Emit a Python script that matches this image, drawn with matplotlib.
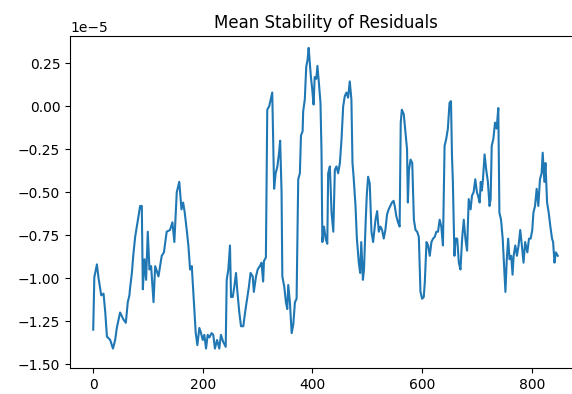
import matplotlib
matplotlib.use('Agg')
import matplotlib.pyplot as plt
import numpy as np

# step index and residual mean stability (in units of 1e-5)
steps = [0, 2, 6.7, 9.7, 14.6, 18.8, 22, 25, 31, 36, 40, 43, 49, 55, 59.5, 63, 66, 67, 70.5, 73,
         76.5, 81, 85.6, 88.6, 90.5, 93.5, 96.5, 99.5, 102.6, 105.6, 110, 113, 119, 125, 129, 134,
         140, 144.5, 148, 152.4, 157, 161, 164, 167, 170.6, 173.6, 176.7, 179.8, 181.5, 184, 187,
         190, 193.6, 196.7, 199.8, 202.7, 205.8, 208.8, 211.8, 216, 219, 222, 226, 230, 233, 237,
         241.7, 243.5, 246.5, 249.5, 251.4, 254.5, 257.4, 260.5, 263, 266.5, 269.6, 273.8, 277,
         280, 284, 287, 291, 293, 297, 300, 304, 307, 310, 311.5, 315, 317.5, 321, 323.7, 326.6,
         330, 332.8, 336, 339, 341, 343.6, 345, 348.5, 351.5, 354, 355.8, 358.8, 362, 365, 368,
         371, 374, 377, 379, 382, 383, 386, 388.6, 391, 393, 395, 397, 399.5, 402, 404, 407, 409,
         411.6, 414.6, 416.5, 418, 421, 424, 427, 428.6, 431.7, 434.8, 438, 440.8, 443.8, 446.8,
         450, 453, 456, 459, 462, 465, 468, 471, 473, 475, 478.5, 481, 484.5, 487, 489, 492, 494,
         497, 499, 501.5, 504.5, 507.6, 510.6, 515, 518, 521, 524, 527, 530, 533, 536, 539, 542,
         545, 548, 550, 553, 556, 559, 561, 563, 566.5, 569.6, 572.5, 574, 576, 579, 582, 585,
         588, 591, 594, 597, 600, 603, 605, 608, 611, 614, 617, 620, 623, 626, 629, 632, 635, 638,
         641, 644, 647, 650, 652.7, 654.5, 656, 659, 661, 664, 667, 670, 673, 676, 679, 682, 685,
         688.5, 691, 694, 697, 700, 702, 705, 707, 709, 711, 714, 717, 720, 723, 725, 727, 730,
         733, 736, 739, 741, 744, 747, 750, 752, 754.5, 757, 759.5, 762.5, 765, 767, 770, 773,
         776, 779, 782, 785, 788, 792, 795, 798, 801, 803, 806, 809, 812, 815, 818, 820, 823, 825,
         828, 831, 834, 837, 839, 841.5, 844, 847.5]
stability = [-1.30, -0.995, -0.92, -1.00, -1.10, -1.09, -1.20, -1.34, -1.36, -1.41, -1.36, -1.29,
             -1.20, -1.24, -1.26, -1.14, -1.10, -1.065, -0.97, -0.87, -0.76, -0.67, -0.58, -0.58,
             -1.065, -0.89, -1.01, -0.73, -0.95, -0.93, -1.14, -0.93, -0.99, -0.87, -0.85, -0.73,
             -0.72, -0.675, -0.79, -0.50, -0.44, -0.60, -0.56, -0.62, -0.72, -0.81, -0.95, -0.93,
             -1.02, -1.16, -1.32, -1.39, -1.29, -1.32, -1.36, -1.33, -1.41, -1.33, -1.345, -1.32,
             -1.33, -1.41, -1.36, -1.41, -1.33, -1.37, -1.40, -1.01, -0.95, -0.81, -1.11, -1.11,
             -1.05, -0.97, -1.08, -1.20, -1.28, -1.28, -1.20, -1.135, -1.05, -0.97, -0.99, -1.08,
             -0.99, -0.95, -0.93, -0.91, -1.02, -0.90, -0.88, -0.02, 0.00, 0.04, 0.08, -0.48,
             -0.39, -0.35, -0.27, -0.20, -0.50, -0.99, -1.05, -1.14, -1.18, -1.04, -1.14, -1.32,
             -1.27, -1.14, -1.12, -0.425, -0.39, -0.17, -0.145, -0.03, 0.04, 0.23, 0.27, 0.34, 0.26,
             0.175, 0.10, 0.01, 0.17, 0.16, 0.235, 0.14, 0.02, -0.27, -0.79, -0.70, -0.77, -0.80,
             -0.39, -0.35, -0.62, -0.73, -0.37, -0.35, -0.39, -0.33, -0.19, 0.00, 0.06, 0.08, 0.05,
             0.145, 0.04, -0.33, -0.41, -0.58, -0.77, -0.91, -0.97, -0.79, -1.01, -0.95, -0.675,
             -0.52, -0.41, -0.45, -0.73, -0.79, -0.66, -0.61, -0.73, -0.70, -0.72, -0.77, -0.72,
             -0.63, -0.60, -0.58, -0.56, -0.55, -0.58, -0.64, -0.675, -0.70, -0.095, -0.02, -0.045,
             -0.15, -0.25, -0.56, -0.37, -0.31, -0.33, -0.66, -0.72, -0.73, -0.76, -1.08, -1.12,
             -1.11, -1.02, -0.79, -0.81, -0.87, -0.79, -0.77, -0.76, -0.73, -0.73, -0.66, -0.70,
             -0.81, -0.23, -0.19, -0.13, 0.02, 0.03, -0.29, -0.425, -0.87, -0.77, -0.77, -0.91,
             -0.95, -0.77, -0.66, -0.77, -0.84, -0.54, -0.60, -0.52, -0.50, -0.425, -0.50, -0.52,
             -0.56, -0.44, -0.49, -0.425, -0.28, -0.37, -0.44, -0.58, -0.54, -0.23, -0.19, -0.095,
             -0.13, -0.01, -0.62, -0.66, -0.77, -0.95, -1.08, -0.89, -0.77, -0.89, -0.87, -0.98,
             -0.87, -0.81, -0.87, -0.81, -0.72, -0.81, -0.91, -0.79, -0.85, -0.77, -0.77, -0.72,
             -0.62, -0.58, -0.48, -0.58, -0.425, -0.39, -0.27, -0.44, -0.33, -0.56, -0.62, -0.70,
             -0.77, -0.79, -0.91, -0.85, -0.87]

x = np.array(steps)
y = np.array(stability) * 1e-5

fig = plt.figure(figsize=(5.72, 3.94), dpi=100)
# the reference is cropped on the right, so the axes run past the figure edge
ax = fig.add_axes([70 / 572, 26 / 394, 511 / 572, 332 / 394])
ax.plot(x, y)
ax.set_ylim(-1.523e-5, 0.409e-5)
ax.set_title('Mean Stability of Residuals')

fig.savefig('out.png', dpi=100)
